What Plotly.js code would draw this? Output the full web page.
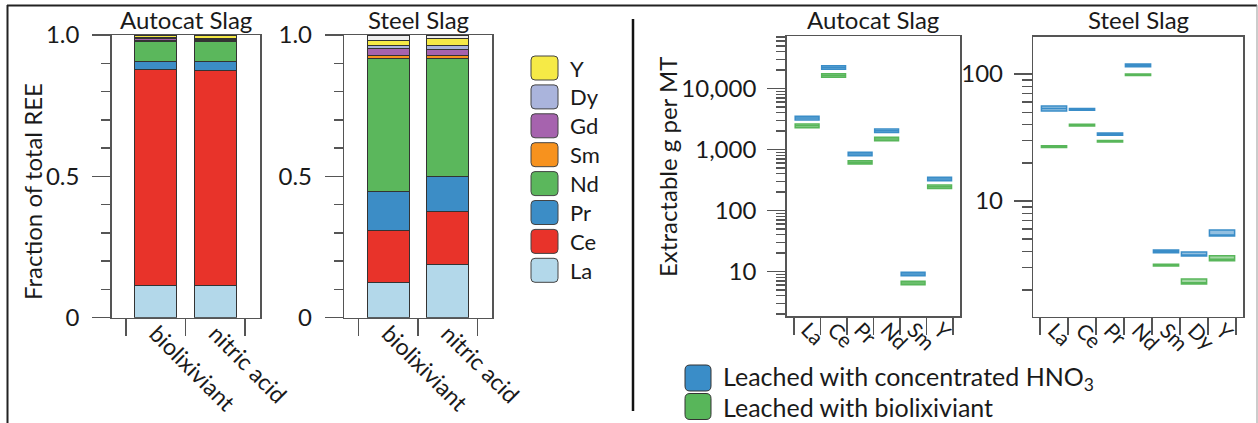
<!DOCTYPE html>
<html><head><meta charset="utf-8">
<script src="https://cdn.plot.ly/plotly-3.0.1.min.js"></script>
<style>html,body{margin:0;padding:0;background:#fff}#chart{width:1258px;height:423px}</style>
</head><body><div id="chart"></div>
<script>
// ---------------- DATA ----------------
const leachCats = ['biolixiviant', 'nitric acid'];
const stackElements = ['La', 'Ce', 'Pr', 'Nd', 'Sm', 'Gd', 'Dy', 'Y', 'other'];
const stackColors = ['#b3d8ea', '#e8332a', '#3c8dc6', '#5bb75c', '#f7921e', '#a663ae', '#aab4dc', '#f6ea46', '#eeeeee'];
// fractions of total REE [biolixiviant, nitric acid]
const autocatLa = [0.114, 0.113];
const autocatCe = [0.765, 0.763];
const autocatPr = [0.026, 0.029];
const autocatNd = [0.071, 0.071];
const autocatSm = [0.004, 0.004];
const autocatGd = [0.006, 0.005];
const autocatDy = [0.004, 0.004];
const autocatY  = [0.010, 0.011];
const autocatOther = [0.000, 0.000];
const steelLa = [0.124, 0.189];
const steelCe = [0.186, 0.188];
const steelPr = [0.138, 0.122];
const steelNd = [0.470, 0.419];
const steelSm = [0.010, 0.011];
const steelGd = [0.024, 0.020];
const steelDy = [0.011, 0.014];
const steelY  = [0.017, 0.023];
const steelOther = [0.020, 0.014];

// extractable g per MT (box: q1, median, q3)
const autocatEls = ['La', 'Ce', 'Pr', 'Nd', 'Sm', 'Y'];
const autocatHNO3Q1  = [3050, 20700, 790, 1900, 8.5, 306];
const autocatHNO3Med = [3270, 22100, 841, 2030, 9.06, 327];
const autocatHNO3Q3  = [3500, 23600, 900, 2170, 9.7, 350];
const autocatBioQ1  = [2280, 15200, 575, 1390, 6.05, 229];
const autocatBioMed = [2450, 16300, 612, 1480, 6.46, 245];
const autocatBioQ3  = [2620, 17400, 655, 1580, 6.9, 262];

const steelEls = ['La', 'Ce', 'Pr', 'Nd', 'Sm', 'Dy', 'Y'];
const steelHNO3Q1  = [51.2, 51.8, 33.0, 114, 3.92, 3.69, 5.31];
const steelHNO3Med = [53.5, 52.7, 33.7, 117, 4.02, 3.73, 5.40];
const steelHNO3Q3  = [56.0, 53.6, 34.4, 120, 4.12, 3.97, 5.91];
const steelBioQ1  = [26.4, 39.0, 29.1, 97.5, 3.08, 2.22, 3.39];
const steelBioMed = [26.8, 39.6, 29.5, 98.8, 3.13, 2.27, 3.48];
const steelBioQ3  = [27.2, 40.3, 29.9, 100, 3.18, 2.43, 3.70];

const legendNames = ['Y', 'Dy', 'Gd', 'Sm', 'Nd', 'Pr', 'Ce', 'La'];
const seriesNames = ['Leached with concentrated HNO<sub>3</sub>', 'Leached with biolixiviant'];
const seriesColors = ['#3a8dc8', '#58b65a'];
const seriesFills = ['rgba(58,141,200,0.55)', 'rgba(88,182,90,0.55)'];

// ---------------- LAYOUT HELPERS ----------------
const W = 1258, H = 423;
const fx = v => v / W;
const fy = v => 1 - v / H;
const FONT = 'Lato, "Open Sans", sans-serif';
const TXT = '#1a1a1a';
const AX = '#555555';

const autocatStack = [autocatLa, autocatCe, autocatPr, autocatNd, autocatSm, autocatGd, autocatDy, autocatY, autocatOther];
const steelStack = [steelLa, steelCe, steelPr, steelNd, steelSm, steelGd, steelDy, steelY, steelOther];

const traces = [];
stackElements.forEach((el, i) => {
  traces.push({type: 'bar', x: leachCats, y: autocatStack[i], name: el, xaxis: 'x', yaxis: 'y',
    marker: {color: stackColors[i], line: {color: '#333', width: 1}}, showlegend: false, hoverinfo: 'y+name'});
  traces.push({type: 'bar', x: leachCats, y: steelStack[i], name: el, xaxis: 'x2', yaxis: 'y2',
    marker: {color: stackColors[i], line: {color: '#333', width: 1}}, showlegend: false, hoverinfo: 'y+name'});
});

function boxTrace(xs, q1, med, q3, k, xa, ya, w) {
  return {type: 'box', x: xs, q1: q1, median: med, q3: q3, lowerfence: q1, upperfence: q3,
    xaxis: xa, yaxis: ya, width: w, name: seriesNames[k], showlegend: false,
    line: {color: seriesColors[k], width: 1.5}, fillcolor: seriesFills[k], whiskerwidth: 0.5};
}
traces.push(boxTrace(autocatEls, autocatHNO3Q1, autocatHNO3Med, autocatHNO3Q3, 0, 'x3', 'y3', 0.9));
traces.push(boxTrace(autocatEls, autocatBioQ1, autocatBioMed, autocatBioQ3, 1, 'x3', 'y3', 0.9));
traces.push(boxTrace(steelEls, steelHNO3Q1, steelHNO3Med, steelHNO3Q3, 0, 'x4', 'y4', 0.9));
traces.push(boxTrace(steelEls, steelBioQ1, steelBioMed, steelBioQ3, 1, 'x4', 'y4', 0.9));

const baseAxis = {showline: true, mirror: true, linecolor: AX, linewidth: 1.5, showgrid: false, zeroline: false,
  ticks: 'outside', tickcolor: AX, tickwidth: 1.5, tickfont: {family: FONT, size: 24, color: TXT}, fixedrange: true};

function catX(anchor, domain, range, ticklen, fsize, angle) {
  return Object.assign({}, baseAxis, {type: 'category', anchor: anchor, domain: domain, range: range, tickson: 'boundaries',
    ticklen: ticklen, tickangle: angle, tickfont: {family: FONT, size: fsize, color: TXT}, ticklabelstandoff: -8});
}

function minorLog(lo, hi) {
  const v = [];
  for (let d = lo; d <= hi; d++) for (let m = 2; m <= 9; m++) v.push(m * Math.pow(10, d));
  return v;
}

const stackY = (anchor, domain) => Object.assign({}, baseAxis, {anchor: anchor, domain: domain, range: [0, 1],
  tickmode: 'array', tickvals: [0, 0.5, 1], ticktext: ['0', '0.5', '1.0'], ticklen: 18, ticklabelstandoff: 8,
  minor: {ticks: 'outside', dtick: 0.1, tick0: 0, ticklen: 9, tickcolor: AX, tickwidth: 1.5}});

const layout = {
  width: W, height: H, margin: {l: 0, r: 0, t: 0, b: 0}, paper_bgcolor: '#fff', plot_bgcolor: '#fff',
  barmode: 'stack', bargap: 0.29, boxmode: 'overlay', showlegend: false,
  font: {family: FONT, color: TXT},
  xaxis: catX('y', [fx(111.7), fx(260)], [-0.74, 1.75], 17, 23, 45),
  yaxis: stackY('x', [fy(317.7), fy(35)]),
  xaxis2: catX('y2', [fx(344.3), fx(492.3)], [-0.74, 1.75], 17, 23, 45),
  yaxis2: stackY('x2', [fy(317.7), fy(35)]),
  xaxis3: catX('y3', [fx(786.7), fx(960)], [-0.77, 5.77], 17, 21, 45),
  yaxis3: Object.assign({}, baseAxis, {type: 'log', anchor: 'x3', domain: [fy(316), fy(36)], range: [0.27, 4.86],
    tickmode: 'array', tickvals: [10, 100, 1000, 10000], ticktext: ['10', '100', '1,000', '10,000'],
    ticklen: 18, ticklabelstandoff: 6,
    minor: {ticks: 'outside', tickmode: 'array', tickvals: minorLog(0, 4), ticklen: 9, tickcolor: AX, tickwidth: 1.5}}),
  xaxis4: catX('y4', [fx(1033.3), fx(1243.3)], [-0.74, 6.76], 17, 21, 45),
  yaxis4: Object.assign({}, baseAxis, {type: 'log', anchor: 'x4', domain: [fy(316.7), fy(36.7)], range: [0.089, 2.294],
    tickmode: 'array', tickvals: [10, 100], ticktext: ['10', '100'],
    ticklen: 18, ticklabelstandoff: 6,
    minor: {ticks: 'outside', tickmode: 'array', tickvals: minorLog(0, 2), ticklen: 10, tickcolor: AX, tickwidth: 1.5}}),
  shapes: [], annotations: []
};

// panel titles & axis titles
const titles = [['Autocat Slag', 186], ['Steel Slag', 418], ['Autocat Slag', 873], ['Steel Slag', 1138]];
titles.forEach(t => layout.annotations.push({text: t[0], x: fx(t[1]), y: fy(20), xref: 'paper', yref: 'paper',
  showarrow: false, xanchor: 'center', yanchor: 'middle', font: {family: FONT, size: 24, color: TXT}}));
layout.annotations.push({text: 'Fraction of total REE', x: fx(32), y: fy(192), xref: 'paper', yref: 'paper',
  textangle: -90, showarrow: false, xanchor: 'center', yanchor: 'middle', font: {family: FONT, size: 24, color: TXT}});
layout.annotations.push({text: 'Extractable g per MT', x: fx(667), y: fy(167), xref: 'paper', yref: 'paper',
  textangle: -90, showarrow: false, xanchor: 'center', yanchor: 'middle', font: {family: FONT, size: 24, color: TXT}});

// rounded rect helper (pixel coords -> paper path)
function rrect(x0, y0, x1, y1, r) {
  const P = (x, y) => fx(x) + ',' + fy(y);
  return 'M' + P(x0 + r, y0) + ' L' + P(x1 - r, y0) + ' Q' + P(x1, y0) + ' ' + P(x1, y0 + r) +
    ' L' + P(x1, y1 - r) + ' Q' + P(x1, y1) + ' ' + P(x1 - r, y1) + ' L' + P(x0 + r, y1) +
    ' Q' + P(x0, y1) + ' ' + P(x0, y1 - r) + ' L' + P(x0, y0 + r) + ' Q' + P(x0, y0) + ' ' + P(x0 + r, y0) + ' Z';
}

// left legend
legendNames.forEach((nm, i) => {
  const cy = 68 + i * 28.9;
  const col = stackColors[stackElements.indexOf(nm)];
  layout.shapes.push({type: 'path', xref: 'paper', yref: 'paper', path: rrect(531, cy - 12, 558, cy + 12, 4),
    fillcolor: col, line: {color: '#444', width: 1}});
  layout.annotations.push({text: nm, x: fx(568), y: fy(cy), xref: 'paper', yref: 'paper', showarrow: false,
    xanchor: 'left', yanchor: 'middle', font: {family: FONT, size: 22, color: TXT}});
});

// bottom legend
seriesNames.forEach((nm, k) => {
  const cy = 378 + k * 28.5;
  layout.shapes.push({type: 'path', xref: 'paper', yref: 'paper', path: rrect(685, cy - 13, 711, cy + 13, 5),
    fillcolor: seriesColors[k], line: {color: '#333', width: 1}});
  layout.annotations.push({text: nm, x: fx(721), y: fy(cy), xref: 'paper', yref: 'paper', showarrow: false,
    xanchor: 'left', yanchor: 'middle', font: {family: FONT, size: 25, color: TXT}});
});

// frame lines and divider
layout.shapes.push({type: 'line', xref: 'paper', yref: 'paper', x0: fx(7), x1: fx(1257), y0: fy(5.5), y1: fy(5.5), line: {color: '#222', width: 2}});
layout.shapes.push({type: 'line', xref: 'paper', yref: 'paper', x0: fx(7.5), x1: fx(7.5), y0: fy(5), y1: fy(423), line: {color: '#222', width: 2}});
layout.shapes.push({type: 'line', xref: 'paper', yref: 'paper', x0: fx(1257), x1: fx(1257), y0: fy(5), y1: fy(423), line: {color: '#999', width: 1}});
layout.shapes.push({type: 'line', xref: 'paper', yref: 'paper', x0: fx(633), x1: fx(633), y0: fy(19), y1: fy(411), line: {color: '#111', width: 2.5}});

Plotly.newPlot('chart', traces, layout, {displayModeBar: false, staticPlot: true});
</script></body></html>
